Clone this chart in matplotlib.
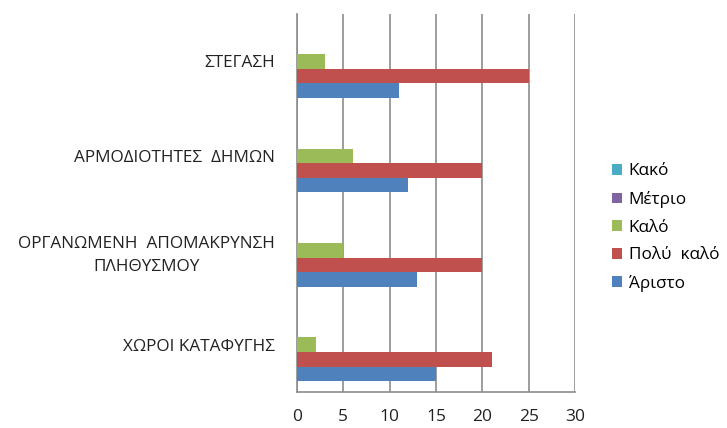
import numpy as np
import matplotlib
matplotlib.use("Agg")
import matplotlib.pyplot as plt

plt.rcParams['font.family'] = ['Open Sans', 'DejaVu Sans']

categories = ['ΧΩΡΟΙ ΚΑΤΑΦΥΓΗΣ', 'ΟΡΓΑΝΩΜΕΝΗ  ΑΠΟΜΑΚΡΥΝΣΗ\nΠΛΗΘΥΣΜΟΥ',
              'ΑΡΜΟΔΙΟΤΗΤΕΣ  ΔΗΜΩΝ', 'ΣΤΕΓΑΣΗ']
series = ['Άριστο', 'Πολύ  καλό', 'Καλό', 'Μέτριο', 'Κακό']
aristo = [15, 13, 12, 11]
poly_kalo = [21, 20, 20, 25]
kalo = [2, 5, 6, 3]
metrio = [0, 0, 0, 0]
kako = [0, 0, 0, 0]
colors = ['#4F81BD', '#C0504D', '#9BBB59', '#8064A2', '#4BACC6']

values = [aristo, poly_kalo, kalo, metrio, kako]

fig = plt.figure(figsize=(7.27, 4.28), dpi=100)
ax = fig.add_axes([0.4085, 0.0841, 0.3825, 0.8829])

y = np.arange(len(categories))
h = 0.155
for i, (name, vals, c) in enumerate(zip(series, values, colors)):
    ax.barh(y + (i - 2) * h, vals, height=h, color=c, label=name, zorder=3)

ax.set_xlim(0, 30)
ax.set_ylim(-0.5, len(categories) - 0.5)
ax.set_xticks(range(0, 31, 5))
ax.set_yticks(y)
ax.set_yticklabels(categories, multialignment='center', linespacing=1.6)
ax.tick_params(axis='y', length=0, pad=16, labelsize=12.3, labelcolor='#222222')
ax.tick_params(axis='x', length=0, pad=12, labelsize=12.5, labelcolor='#222222')
ax.grid(axis='x', color='#8c8c8c', linewidth=1.2, zorder=0)
for s in ['top', 'right']:
    ax.spines[s].set_visible(False)
ax.spines['left'].set_color('#8c8c8c')
ax.spines['bottom'].set_color('#8c8c8c')
ax.spines['left'].set_linewidth(1.2)
ax.spines['bottom'].set_linewidth(1.2)

handles, labels = ax.get_legend_handles_labels()
fig.legend(handles[::-1], labels[::-1], loc='center left', bbox_to_anchor=(0.82, 0.468),
           frameon=False, fontsize=12.3, handlelength=0.6, handleheight=0.6,
           labelspacing=0.68, handletextpad=0.4)

fig.savefig('out.png', dpi=100)
